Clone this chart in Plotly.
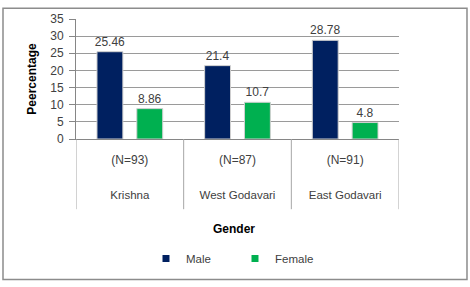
import plotly.graph_objects as go

districts = ["Krishna", "West Godavari", "East Godavari"]
sample_sizes = ["(N=93)", "(N=87)", "(N=91)"]
male = [25.46, 21.4, 28.78]
female = [8.86, 10.7, 4.8]
series_names = ["Male", "Female"]
colors = ["#002060", "#00B050"]
y_ticks = [0, 5, 10, 15, 20, 25, 30, 35]

FONT = "Liberation Sans"
TXT = "#404040"

fig = go.Figure()
for name, vals, col in zip(series_names, [male, female], colors):
    fig.add_trace(go.Bar(
        x=districts, y=vals, name=name, showlegend=False,
        marker=dict(color=col, line=dict(color="#d0d0d0", width=1)),
        text=[str(v) for v in vals], textposition="outside", constraintext="none",
        textfont=dict(family=FONT, size=12, color=TXT), cliponaxis=False,
        hoverinfo="skip",
    ))
    # legend proxy with small square symbol
    fig.add_trace(go.Scatter(
        x=[None], y=[None], name=name, mode="markers",
        marker=dict(symbol="square", size=7, color=col),
    ))

# helper trace for second label row (district names)
fig.add_trace(go.Scatter(
    x=districts, y=male, xaxis="x2", mode="markers",
    marker=dict(opacity=0), showlegend=False, hoverinfo="skip",
))

fig.update_layout(
    width=470, height=287,
    margin=dict(l=76, r=71, t=16, b=148),
    paper_bgcolor="white", plot_bgcolor="white",
    barmode="group", bargap=0.26, bargroupgap=0.35,
    font=dict(family=FONT, size=11, color=TXT),
    xaxis=dict(
        type="category", categoryarray=districts, range=[-0.5, 2.5],
        tickvals=districts, ticktext=sample_sizes,
        ticks="", showgrid=False, showline=True, linecolor="#868686", linewidth=1,
        tickfont=dict(family=FONT, size=12, color=TXT),
        ticklabelstandoff=10, zeroline=False,
    ),
    xaxis2=dict(
        type="category", categoryarray=districts, range=[-0.5, 2.5],
        overlaying="x", side="bottom", anchor="y",
        tickvals=districts, ticktext=districts,
        ticks="", showgrid=False, showline=False,
        tickfont=dict(family=FONT, size=11.5, color=TXT),
        ticklabelstandoff=47, zeroline=False,
    ),
    yaxis=dict(
        range=[0, 35], tickvals=y_ticks, ticks="outside", ticklen=6,
        tickcolor="#868686", showgrid=True, gridcolor="#9a9a9a", gridwidth=1,
        showline=True, linecolor="#868686", linewidth=1, zeroline=False,
        tickfont=dict(family=FONT, size=12, color=TXT),
        ticklabelstandoff=3,
        title=dict(text="<b>Peercentage</b>", font=dict(family=FONT, size=12, color="#000000"), standoff=11),
    ),
    legend=dict(
        orientation="h", x=0.2167, xanchor="left", y=-0.996, yanchor="middle",
        yref="paper", font=dict(family=FONT, size=11.5, color=TXT),
        itemwidth=30, traceorder="normal", entrywidth=44,
    ),
    annotations=[dict(
        text="<b>Gender</b>", xref="paper", yref="paper", x=0.5, y=0,
        xanchor="center", yanchor="middle", xshift=-4, yshift=-90, showarrow=False,
        font=dict(family=FONT, size=12, color="#000000"),
    )],
)

# category dividers below the axis
for b in [-0.5, 0.5, 1.5, 2.5]:
    fig.add_shape(type="line", xref="x", yref="paper", x0=b, x1=b, y0=0, y1=-0.585,
                  line=dict(color="#a6a6a6", width=1), layer="above")

# outer chart frame
fig.add_shape(type="rect", xref="paper", yref="paper",
              x0=-0.226, x1=1.2105, y0=-1.171, y1=1.09,
              line=dict(color="#8c8c8c", width=1.5), layer="below")

fig.write_html("out.html", config={"displayModeBar": False},
               post_script="document.body.style.margin='0';document.body.style.overflow='hidden';")
